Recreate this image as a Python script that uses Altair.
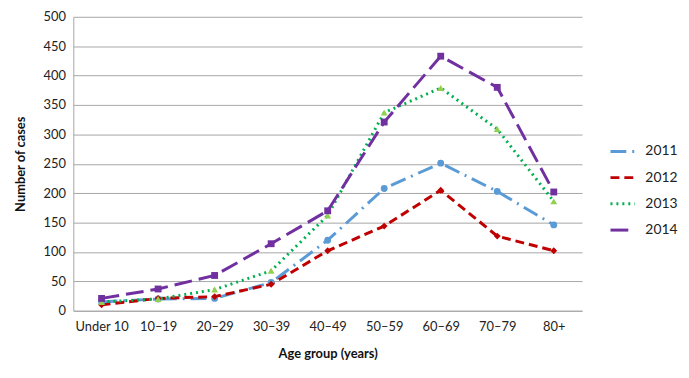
import altair as alt
import pandas as pd

ages = ["Under 10", "10–19", "20–29", "30–39", "40–49", "50–59", "60–69", "70–79", "80+"]
years = ["2011", "2012", "2013", "2014"]
v2011 = [15, 20, 21, 48, 120, 208, 251, 203, 146]
v2012 = [10, 21, 24, 45, 102, 144, 205, 127, 102]
v2013 = [15, 20, 36, 68, 162, 337, 379, 309, 186]
v2014 = [21, 37, 60, 114, 170, 321, 433, 380, 202]

line_colors = ["#5B9BD5", "#C00000", "#00B050", "#7030A0"]
point_colors = ["#5B9BD5", "#C00000", "#92D050", "#7030A0"]
dashes = [[16, 6, 2, 6], [9, 5], [2, 4], [18, 7]]
shapes = ["circle", "diamond", "triangle-up", "square"]
FONT = "Lato"

rows = []
for i, (y, vals) in enumerate(zip(years, [v2011, v2012, v2013, v2014])):
    for a, v in zip(ages, vals):
        rows.append({"age": a, "year": y, "cases": v,
                     "pcolor": point_colors[i], "pshape": shapes[i]})
df = pd.DataFrame(rows)

x = alt.X("age:N", sort=ages, scale=alt.Scale(type="point", padding=0.5),
          axis=alt.Axis(title="Age group (years)", labelAngle=0, ticks=False,
                        domainColor="#A6A6A6", labelPadding=10, titlePadding=14))
y = alt.Y("cases:Q", scale=alt.Scale(domain=[0, 500]),
          axis=alt.Axis(title="Number of cases", values=list(range(0, 501, 50)),
                        ticks=False, domainColor="#A6A6A6", gridColor="#A6A6A6",
                        labelPadding=8, titlePadding=16))

leg = dict(title=None, orient="none", legendX=541, legendY=122,
           symbolType="stroke", symbolSize=600, symbolStrokeWidth=3, rowPadding=5.5,
           labelFontSize=14, labelFont=FONT, labelColor="#222", labelOffset=9)

lines = alt.Chart(df).mark_line(strokeWidth=3).encode(
    x=x, y=y,
    stroke=alt.Stroke("year:N", scale=alt.Scale(domain=years, range=line_colors),
                      legend=alt.Legend(**leg)),
    strokeDash=alt.StrokeDash("year:N", scale=alt.Scale(domain=years, range=dashes),
                              legend=alt.Legend(**leg)),
)

points = alt.Chart(df).mark_point(filled=True, size=48, opacity=1).encode(
    x=x, y=y,
    fill=alt.Fill("pcolor:N", scale=None),
    shape=alt.Shape("pshape:N", scale=None),
)

chart = alt.layer(lines, points).properties(
    width=514, height=297,
    autosize=alt.AutoSizeParams(type="none"),
    padding={"left": 66, "top": 7, "right": 100, "bottom": 60},
).configure_view(stroke=None).configure_axis(
    labelFont=FONT, titleFont=FONT, labelFontSize=13, titleFontSize=13,
    labelColor="#222", titleColor="#111", titleFontWeight="bold",
)

chart.save("out.html", embed_options={"renderer": "svg", "actions": False})
